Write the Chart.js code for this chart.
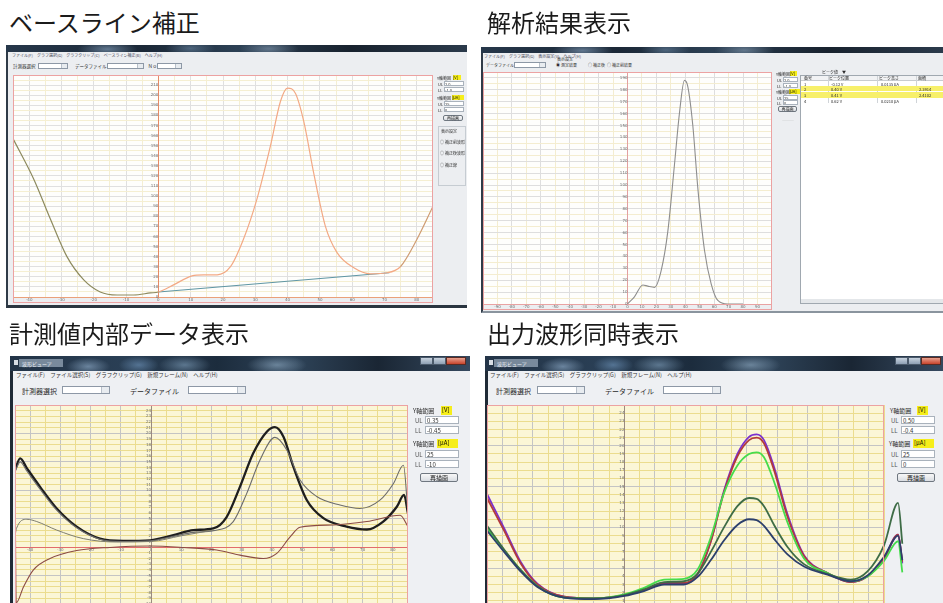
<!DOCTYPE html>
<html lang="ja">
<head>
<meta charset="utf-8">
<title>波形表示画面</title>
<script src="https://cdn.jsdelivr.net/npm/chart.js@4.4.1/dist/chart.umd.min.js"></script>
<style>
  html, body { margin:0; padding:0; }
  body { width:943px; height:603px; overflow:hidden; position:relative; background:#fff;
         font-family:"Noto Sans CJK JP","DejaVu Sans",sans-serif; }
  .shot { position:absolute; left:0; top:0; width:943px; height:603px; filter:blur(0.35px); }
  .a { position:absolute; white-space:nowrap; line-height:1; color:#2a2a2a; }
  .ttl { position:absolute; white-space:nowrap; font-size:24px; line-height:24px; color:#1b1b1b; }
  .win { position:absolute; background:#eceef1; box-sizing:border-box; }
  .aero { position:absolute; overflow:hidden;
    background:
      radial-gradient(ellipse 30px 8px at 22% 60%, rgba(150,180,210,.55), transparent),
      radial-gradient(ellipse 25px 8px at 40% 50%, rgba(120,150,180,.5), transparent),
      radial-gradient(ellipse 30px 9px at 57% 55%, rgba(170,195,220,.45), transparent),
      linear-gradient(90deg,#26374a,#1b2837 30%,#2c4054 50%,#18222e 75%,#2b3a4b); }
  .cb { position:absolute; background:#fff; border:1px solid #8d98a6; box-sizing:border-box; overflow:hidden; }
  .cb i { position:absolute; right:0; top:0; bottom:0; width:5px; border-left:1px solid #b8c0ca; background:#e8ecf0; }
  .frame { position:absolute; border:1px solid #eca2a2; box-sizing:border-box; pointer-events:none; }
  .y { position:absolute; background:#f6ee1a; white-space:nowrap; line-height:1; }
  .tb { position:absolute; background:#fff; border:1px solid #a9b2bc; box-sizing:border-box; line-height:1; white-space:nowrap; color:#333; overflow:hidden; }
  .btn { position:absolute; box-sizing:border-box; border:1px solid #6f7780; border-radius:2px; background:linear-gradient(#f8f8f8,#d9dde2); text-align:center; line-height:1; color:#222; white-space:nowrap; }
  .row { position:absolute; box-sizing:border-box; white-space:nowrap; line-height:1; color:#444; }
  canvas { position:absolute; }
</style>
</head>
<body>

<!-- ===== ベースライン補正 ===== -->
<div class="ttl" style="left:9px;top:10px">ベースライン補正</div>
<div class="shot">
<div class="win" style="left:6px;top:45px;width:461px;height:263px;border-left:2px solid #2f3b48;border-bottom:3px solid #2a3540"></div>
<div class="aero" style="left:6px;top:45px;width:461px;height:7px"></div>
<div class="a" style="left:12px;top:53px;font-size:4px;color:#445">ファイル(F)　グラフ選択(G)　グラフクリップ(C)　ベースライン補正(B)　ヘルプ(H)</div>
<div class="a" style="left:13px;top:64px;font-size:4.5px">計測器選択</div>
<div class="cb" style="left:38px;top:63px;width:30px;height:6px"><i></i></div>
<div class="a" style="left:75px;top:64px;font-size:4.5px">データファイル</div>
<div class="cb" style="left:107px;top:63px;width:37px;height:6px"><i></i></div>
<div class="a" style="left:148px;top:64px;font-size:4.5px">Ｎｏ</div>
<div class="cb" style="left:157px;top:63px;width:25px;height:6px"><i></i></div>
<canvas id="c1" width="420" height="228" style="left:13px;top:75px"></canvas>
<div class="frame" style="left:13px;top:75px;width:420px;height:228px"></div>
<div class="a" style="left:437px;top:76px;font-size:4px">Y軸範囲</div>
<div class="y" style="left:453px;top:75px;width:8px;height:5px;font-size:4px">[V]</div>
<div class="a" style="left:438px;top:82px;font-size:4px">UL</div>
<div class="tb" style="left:444px;top:81px;width:20px;height:5px;font-size:4px">2.0</div>
<div class="a" style="left:438px;top:88px;font-size:4px">LL</div>
<div class="tb" style="left:444px;top:87px;width:20px;height:5px;font-size:4px">-1.0</div>
<div class="a" style="left:437px;top:96px;font-size:4px">Y軸範囲</div>
<div class="y" style="left:452px;top:95px;width:12px;height:5px;font-size:4px">[μA]</div>
<div class="a" style="left:438px;top:102px;font-size:4px">UL</div>
<div class="tb" style="left:444px;top:101px;width:20px;height:5px;font-size:4px">25</div>
<div class="a" style="left:438px;top:108px;font-size:4px">LL</div>
<div class="tb" style="left:444px;top:107px;width:20px;height:5px;font-size:4px">0</div>
<div class="btn" style="left:443px;top:115px;width:20px;height:6px;font-size:4px">再描画</div>
<div class="a" style="left:438px;top:126px;width:28px;height:60px;border:1px solid #c6ccd2;box-sizing:border-box"></div>
<div class="a" style="left:441px;top:129px;font-size:4px">表示設定</div>
<div class="a" style="left:440px;top:140px;font-size:4px">○ 補正前波形</div>
<div class="a" style="left:440px;top:151px;font-size:4px">○ 補正後波形</div>
<div class="a" style="left:440px;top:163px;font-size:4px">○ 補正線</div>
</div>

<!-- ===== 解析結果表示 ===== -->
<div class="ttl" style="left:487px;top:10px">解析結果表示</div>
<div class="shot">
<div class="win" style="left:481px;top:47px;width:462px;height:266px;border-left:2px solid #2f3b48;border-bottom:2px solid #8a949e"></div>
<div class="aero" style="left:481px;top:47px;width:462px;height:6px"></div>
<div class="a" style="left:484px;top:54px;font-size:4px;color:#445">ファイル(F)　グラフ選択(G)　表示設定(V)　ヘルプ(H)</div>
<div class="a" style="left:486px;top:63px;font-size:4px">データファイル</div>
<div class="cb" style="left:514px;top:62px;width:32px;height:6px"><i></i></div>
<div class="a" style="left:557px;top:57px;font-size:4px">表示設定</div>
<div class="a" style="left:556px;top:63px;font-size:4px">◉ 測定結果</div>
<div class="a" style="left:588px;top:63px;font-size:4px">○ 補正後</div>
<div class="a" style="left:607px;top:63px;font-size:4px">○ 補正前結果</div>
<canvas id="c2" width="289" height="238" style="left:483px;top:72px"></canvas>
<div class="frame" style="left:483px;top:72px;width:289px;height:238px"></div>
<div class="a" style="left:776px;top:72px;font-size:4px">Y軸範囲</div>
<div class="y" style="left:790px;top:71px;width:7px;height:5px;font-size:4px">[V]</div>
<div class="a" style="left:777px;top:78px;font-size:4px">UL</div>
<div class="tb" style="left:783px;top:77px;width:15px;height:5px;font-size:4px">2.0</div>
<div class="a" style="left:777px;top:84px;font-size:4px">LL</div>
<div class="tb" style="left:783px;top:83px;width:15px;height:5px;font-size:4px">-1.0</div>
<div class="a" style="left:776px;top:90px;font-size:4px">Y軸範囲</div>
<div class="y" style="left:789px;top:89px;width:11px;height:5px;font-size:4px">[μA]</div>
<div class="a" style="left:777px;top:96px;font-size:4px">UL</div>
<div class="tb" style="left:783px;top:95px;width:15px;height:5px;font-size:4px">25</div>
<div class="a" style="left:777px;top:101px;font-size:4px">LL</div>
<div class="tb" style="left:783px;top:100px;width:15px;height:5px;font-size:4px">0</div>
<div class="btn" style="left:778px;top:106px;width:19px;height:6px;font-size:4px">再描画</div>
<div class="a" style="left:782px;top:119px;font-size:4px;color:#aaa">―――</div>
<div class="a" style="left:822px;top:70px;font-size:4px">ピーク値　▼</div>
<div class="a" style="left:800px;top:75px;width:145px;height:229px;background:#fff;border:1px solid #a0a8b0;box-sizing:border-box"></div>
<div class="row" style="left:801px;top:76px;width:142px;height:5px;background:#f1f2f4;border-bottom:1px solid #c8ccd0;font-size:4px">
  <span class="a" style="left:3px;top:0">番号</span><span class="a" style="left:28px;top:0">ピーク位置</span><span class="a" style="left:78px;top:0">ピーク高さ</span><span class="a" style="left:117px;top:0">面積</span>
</div>
<div class="a" style="left:828px;top:76px;width:1px;height:27px;background:#d0d4d8"></div>
<div class="a" style="left:877px;top:76px;width:1px;height:27px;background:#d0d4d8"></div>
<div class="a" style="left:916px;top:76px;width:1px;height:27px;background:#d0d4d8"></div>
<div class="row" style="left:801px;top:81px;width:142px;height:5px;font-size:4px"><span class="a" style="left:3px;top:0.5px">1</span><span class="a" style="left:30px;top:0.5px">-0.12 V</span><span class="a" style="left:80px;top:0.5px">0.0135 μA</span></div>
<div class="row" style="left:801px;top:86px;width:142px;height:5px;background:#f7f06a;font-size:4px"><span class="a" style="left:3px;top:0.5px">2</span><span class="a" style="left:30px;top:0.5px">0.40 V</span><span class="a" style="left:118px;top:0.5px">2.3914</span></div>
<div class="row" style="left:801px;top:92px;width:142px;height:6px;background:#f7f06a;font-size:4px"><span class="a" style="left:3px;top:1px">3</span><span class="a" style="left:30px;top:1px">0.41 V</span><span class="a" style="left:118px;top:1px">2.4102</span></div>
<div class="row" style="left:801px;top:98px;width:142px;height:5px;font-size:4px"><span class="a" style="left:3px;top:0.5px">4</span><span class="a" style="left:30px;top:0.5px">0.62 V</span><span class="a" style="left:80px;top:0.5px">0.0210 μA</span></div>
<div class="a" style="left:801px;top:299px;width:142px;height:4px;background:#e4e7ea"></div>
</div>

<!-- ===== 計測値内部データ表示 ===== -->
<div class="ttl" style="left:9px;top:321px">計測値内部データ表示</div>
<div class="shot">
<div class="win" style="left:10px;top:356px;width:460px;height:247px;border-left:3px solid #1f2a36;background:#eef0f3"></div>
<div class="aero" style="left:10px;top:356px;width:460px;height:15px;
  background:radial-gradient(ellipse 22px 9px at 17% 70%, rgba(160,190,220,.55), transparent),
  radial-gradient(ellipse 20px 9px at 28% 60%, rgba(120,160,200,.55), transparent),
  radial-gradient(ellipse 26px 10px at 38% 60%, rgba(150,185,215,.5), transparent),
  radial-gradient(ellipse 30px 10px at 58% 60%, rgba(170,200,225,.5), transparent),
  linear-gradient(90deg,#233447,#2a3f55 25%,#1c2c3d 45%,#2e4358 62%,#1a2634 80%,#35495f)"></div>
<div class="a" style="left:14px;top:360px;width:4px;height:5px;background:#d7dde4"></div>
<div class="a" style="left:19px;top:359px;width:44px;height:8px;background:rgba(190,205,222,.55);font-size:5px;color:#e8eef4;padding-left:3px;box-sizing:border-box;padding-top:1.5px">波形ビューア</div>
<div class="a" style="left:420px;top:357px;width:13px;height:8px;background:linear-gradient(#c7d2de,#8ea0b4);border:1px solid #4b5a6b;box-sizing:border-box"></div>
<div class="a" style="left:433px;top:357px;width:13px;height:8px;background:linear-gradient(#c7d2de,#8ea0b4);border:1px solid #4b5a6b;box-sizing:border-box"></div>
<div class="a" style="left:446px;top:357px;width:20px;height:8px;background:linear-gradient(#e7a08e,#c8442c);border:1px solid #5a2a22;box-sizing:border-box"></div>
<div class="a" style="left:16px;top:373px;font-size:5.5px;color:#333">ファイル(F)　ファイル選択(S)　グラフクリップ(G)　新規フレーム(N)　ヘルプ(H)</div>
<div class="a" style="left:22px;top:388px;font-size:7px">計測器選択</div>
<div class="cb" style="left:62px;top:386px;width:48px;height:8px"><i style="width:7px"></i></div>
<div class="a" style="left:130px;top:388px;font-size:7px">データファイル</div>
<div class="cb" style="left:188px;top:386px;width:58px;height:8px"><i style="width:7px"></i></div>
<canvas id="c3" width="393" height="199" style="left:15px;top:405px"></canvas>
<div class="frame" style="left:15px;top:405px;width:393px;height:202px"></div>
<div class="a" style="left:413px;top:408px;font-size:6px">Y軸範囲</div>
<div class="y" style="left:441px;top:406px;width:11px;height:9px;font-size:6px;padding:1px 0 0 1px;box-sizing:border-box">[V]</div>
<div class="a" style="left:415px;top:418px;font-size:6px;color:#555">UL</div>
<div class="tb" style="left:425px;top:416px;width:34px;height:8px;font-size:6px;padding:1px">0.35</div>
<div class="a" style="left:415px;top:428px;font-size:6px;color:#555">LL</div>
<div class="tb" style="left:425px;top:426px;width:34px;height:8px;font-size:6px;padding:1px">-0.45</div>
<div class="a" style="left:413px;top:441px;font-size:6px">Y軸範囲</div>
<div class="y" style="left:437px;top:439px;width:21px;height:9px;font-size:6px;padding:1px 0 0 1px;box-sizing:border-box">[μA]</div>
<div class="a" style="left:415px;top:452px;font-size:6px;color:#555">UL</div>
<div class="tb" style="left:425px;top:450px;width:34px;height:8px;font-size:6px;padding:1px">25</div>
<div class="a" style="left:415px;top:462px;font-size:6px;color:#555">LL</div>
<div class="tb" style="left:425px;top:460px;width:34px;height:8px;font-size:6px;padding:1px">-10</div>
<div class="btn" style="left:420px;top:473px;width:38px;height:9px;font-size:6px;padding-top:1px">再描画</div>
</div>

<!-- ===== 出力波形同時表示 ===== -->
<div class="ttl" style="left:487px;top:321px">出力波形同時表示</div>
<div class="shot">
<div class="win" style="left:485px;top:356px;width:458px;height:247px;border-left:3px solid #1f2a36;background:#eef0f3"></div>
<div class="aero" style="left:485px;top:356px;width:458px;height:15px;
  background:radial-gradient(ellipse 22px 9px at 17% 70%, rgba(160,190,220,.55), transparent),
  radial-gradient(ellipse 20px 9px at 28% 60%, rgba(120,160,200,.55), transparent),
  radial-gradient(ellipse 26px 10px at 38% 60%, rgba(150,185,215,.5), transparent),
  radial-gradient(ellipse 30px 10px at 58% 60%, rgba(170,200,225,.5), transparent),
  linear-gradient(90deg,#233447,#2a3f55 25%,#1c2c3d 45%,#2e4358 62%,#1a2634 80%,#35495f)"></div>
<div class="a" style="left:489px;top:360px;width:4px;height:5px;background:#d7dde4"></div>
<div class="a" style="left:494px;top:359px;width:44px;height:8px;background:rgba(190,205,222,.55);font-size:5px;color:#e8eef4;padding-left:3px;box-sizing:border-box;padding-top:1.5px">波形ビューア</div>
<div class="a" style="left:895px;top:357px;width:13px;height:8px;background:linear-gradient(#c7d2de,#8ea0b4);border:1px solid #4b5a6b;box-sizing:border-box"></div>
<div class="a" style="left:908px;top:357px;width:13px;height:8px;background:linear-gradient(#c7d2de,#8ea0b4);border:1px solid #4b5a6b;box-sizing:border-box"></div>
<div class="a" style="left:921px;top:357px;width:20px;height:8px;background:linear-gradient(#e7a08e,#c8442c);border:1px solid #5a2a22;box-sizing:border-box"></div>
<div class="a" style="left:490px;top:373px;font-size:5.5px;color:#333">ファイル(F)　ファイル選択(S)　グラフクリップ(G)　新規フレーム(N)　ヘルプ(H)</div>
<div class="a" style="left:496px;top:388px;font-size:7px">計測器選択</div>
<div class="cb" style="left:537px;top:386px;width:48px;height:8px"><i style="width:7px"></i></div>
<div class="a" style="left:605px;top:388px;font-size:7px">データファイル</div>
<div class="cb" style="left:663px;top:386px;width:58px;height:8px"><i style="width:7px"></i></div>
<div class="a" style="left:890px;top:408px;font-size:6px">Y軸範囲</div>
<div class="y" style="left:917px;top:406px;width:11px;height:9px;font-size:6px;padding:1px 0 0 1px;box-sizing:border-box">[V]</div>
<div class="a" style="left:891px;top:418px;font-size:6px;color:#555">UL</div>
<div class="tb" style="left:901px;top:416px;width:34px;height:8px;font-size:6px;padding:1px">0.50</div>
<div class="a" style="left:891px;top:428px;font-size:6px;color:#555">LL</div>
<div class="tb" style="left:901px;top:426px;width:34px;height:8px;font-size:6px;padding:1px">-0.4</div>
<div class="a" style="left:889px;top:441px;font-size:6px">Y軸範囲</div>
<div class="y" style="left:913px;top:439px;width:21px;height:9px;font-size:6px;padding:1px 0 0 1px;box-sizing:border-box">[μA]</div>
<div class="a" style="left:891px;top:452px;font-size:6px;color:#555">UL</div>
<div class="tb" style="left:901px;top:450px;width:34px;height:8px;font-size:6px;padding:1px">25</div>
<div class="a" style="left:891px;top:462px;font-size:6px;color:#555">LL</div>
<div class="tb" style="left:901px;top:460px;width:34px;height:8px;font-size:6px;padding:1px">0</div>
<div class="btn" style="left:897px;top:473px;width:38px;height:9px;font-size:6px;padding-top:1px">再描画</div>
<canvas id="c4" width="417" height="210" style="left:487px;top:405px"></canvas>
<div class="frame" style="left:487px;top:405px;width:397px;height:210px"></div>
</div>

<script>
// ---- ベースライン補正: 補正前波形と補正線 ----
const bcX   = [-45, -38.6, -33.4, -28.3, -23.1, -18, -12.8, -7.7, -2.5, 0, 4.7, 10.4, 14, 18.2, 22.3, 26.3, 30.5, 34.7, 37.8, 40, 42.4, 45, 48, 51.7, 55.3, 60.5, 65.6, 70.8, 74.9, 80, 85];
const bcRaw = [157, 117, 77, 40, 17, 5, 2, 2, 4, 5, 12, 21, 22, 22, 30, 57, 97, 150, 194, 207, 202, 174, 124, 70, 44, 29, 23, 24, 30, 57, 90];
const bcLineX = [0, 71.5];
const bcLine  = [5, 24];

// ---- 解析結果: 補正後波形 ----
const arX = [0, 4.8, 10.6, 14, 18.7, 23.3, 27.9, 32.5, 36, 39.4, 41.7, 45.2, 48.7, 53.3, 57.9, 62.5, 69.4, 80];
const arY = [0, 6, 16, 15, 14, 28, 61, 117, 161, 188, 183, 150, 97, 45, 17, 3, 0, 0];

// ---- 計測値内部データ (μA) ----
const imMainX = [-45, -43.3, -41.1, -36.7, -31.2, -24.6, -16.9, -9.2, -0.3, 7.4, 14, 20.6, 25, 29.4, 33.8, 38.3, 41, 43.8, 47.1, 51.5, 57, 64.7, 71.4, 76.8, 81.3, 83.7, 85];
const imMain  = [13.6, 15.6, 13.9, 10.6, 6.8, 3.6, 1.5, 1.1, 1.2, 2.1, 3.0, 3.3, 5.3, 10.6, 16.5, 20.3, 21.1, 19.4, 14.1, 8.3, 5.1, 3.6, 3.1, 4.5, 7.1, 9.2, 5.9];
const imSubX  = [-45, -43.3, -41.1, -36.7, -31.2, -24.6, -16.9, -9.2, -0.3, 7.4, 14, 20.6, 27.2, 31.7, 36, 41, 44.9, 49.3, 54.8, 62.5, 69.1, 75.8, 80.2, 83.5, 85];
const imSub   = [13.2, 15.0, 13.4, 10.2, 6.5, 3.4, 1.4, 1.0, 1.1, 1.9, 2.6, 2.9, 4.5, 9.5, 15.3, 19.3, 17.1, 11.8, 8.9, 7.4, 6.8, 8.3, 11.2, 14.4, 5.9];
const imLeftX = [-45, -44.5, -41.1, -37.8, -31.2, -22.4, -11.3, 0, 10, 20.6];
const imLeft  = [2.0, 3.3, 4.9, 4.5, 3.0, 1.5, 0.9, 1.0, 2.0, 3.0];
const imCurX  = [-45, -44.6, -42.2, -38.9, -33.4, -24.6, -13.6, -0.3, 10.7, 21.7, 29.4, 37.1, 41.6, 46, 49.3, 60.3, 71.4, 82.4, 85];
const imCur   = [13.6, -9.8, -7.0, -4.0, -2.0, -0.6, -0.05, 0.2, -0.05, -0.5, -1.4, -2.0, -1.1, 1.8, 3.5, 3.9, 4.5, 5.6, 3.6];

// ---- 出力波形同時表示 (μA) ----
const owX      = [-45, -39.4, -34, -28.5, -19.7, -9.9, 0, 6.4, 13, 19.5, 23.9, 28.3, 32.6, 37, 40.8, 43.3, 45.7, 49, 53.4, 58.8, 66.5, 74.1, 79.6, 85, 89.6, 91];
const owCh1    = [14.1, 9.9, 5.8, 3.1, 1.5, 1.3, 1.7, 2.3, 3.1, 3.1, 4.2, 8.3, 14.5, 19.0, 21.1, 21.4, 20.7, 17.4, 11.6, 6.6, 4.4, 3.3, 4.0, 6.2, 9.1, 5.6];
const owCh2    = [13.6, 9.6, 5.6, 3.0, 1.5, 1.3, 1.7, 2.3, 3.2, 3.2, 4.3, 8.3, 14.3, 18.7, 20.7, 21.0, 20.3, 17.0, 11.3, 6.5, 4.4, 3.3, 4.0, 6.2, 9.1, 5.8];
const owCh3    = [9.9, 7.2, 4.8, 2.8, 1.4, 1.3, 1.8, 2.6, 3.6, 3.7, 4.8, 8.8, 14.2, 17.6, 19.0, 19.2, 18.6, 15.6, 10.6, 6.2, 4.4, 3.4, 4.0, 5.9, 8.3, 4.5];
const owCh4    = [10.2, 7.3, 4.8, 2.8, 1.4, 1.3, 1.7, 2.4, 3.3, 3.4, 4.3, 7.0, 10.0, 12.6, 13.6, 13.5, 12.6, 10.3, 7.6, 5.5, 4.3, 3.6, 4.6, 7.8, 13.0, 8.0];
const owCh5    = [9.6, 7.0, 4.6, 2.7, 1.4, 1.2, 1.6, 2.2, 3.0, 3.0, 3.9, 6.0, 8.4, 10.3, 11.0, 10.9, 10.2, 8.6, 6.7, 5.2, 4.2, 3.4, 4.1, 6.4, 9.0, 6.0];

// ---- 軸範囲 [min, max, grid step, major grid step, label step] ----
const bcAxisX = [-45, 85, 5, 10, 10],    bcAxisY = [0, 220, 5, 10, 10];
const arAxisX = [-100, 100, 10, 20, 10], arAxisY = [0, 195, 5, 10, 10];
const imAxisX = [-45, 85, 5, 10, 10],    imAxisY = [-10, 25, 1, 5, 1];
const owAxisX = [-45, 85, 5, 10, 10],    owAxisY = [0, 25, 1, 5, 1];

const tickFont = { family: 'DejaVu Sans', size: 4, lineHeight: 1 };

const pts = (xs, ys) => xs.map((x, i) => ({ x, y: ys[i] }));
const flatten = s => { s.paddingLeft = 0; s.paddingRight = 0; s.paddingTop = 0; s.paddingBottom = 0; };
const isMult = (v, every) => Math.abs(Math.round(v * 1000)) % Math.round(every * 1000) === 0;

function series(xs, ys, color, width, extra) {
  return Object.assign({
    data: pts(xs, ys), borderColor: color, borderWidth: width, pointRadius: 0,
    tension: 0.4, cubicInterpolationMode: 'monotone', fill: false
  }, extra || {});
}

// chart area background
const areaFill = {
  id: 'areaFill',
  beforeDraw(chart, args, opts) {
    const a = chart.chartArea, ctx = chart.ctx;
    ctx.save();
    ctx.fillStyle = opts.color || '#fff';
    ctx.fillRect(a.left, a.top, a.right - a.left, a.bottom - a.top);
    ctx.restore();
  }
};

function makeChart(id, o) {
  const ax = o.x, ay = o.y;
  const xScale = {
    type: 'linear', min: ax[0],
    position: o.xAtZero ? { y: 0 } : 'bottom',
    afterFit: s => { flatten(s); if (o.xAtZero) s.height = 0; },
    ticks: { stepSize: ax[2], autoSkip: false, maxRotation: 0, minRotation: 0, padding: 1,
             font: tickFont, color: '#707070',
             callback: v => (isMult(v, ax[4]) && v !== ax[0] && v !== ax[1] ? String(v) : '') },
    grid: { color: c => (c.tick && isMult(c.tick.value, ax[3]) ? o.grid[0] : o.grid[1]), lineWidth: 1, drawTicks: false },
    border: { display: true, color: o.xAxisColor, width: 1 }
  };
  if (o.overhang) xScale.afterDataLimits = s => { s.max = ax[1]; };
  else xScale.max = ax[1];
  return new Chart(document.getElementById(id), {
    type: 'line',
    data: { datasets: o.datasets },
    plugins: [areaFill],
    options: {
      responsive: false, animation: false, devicePixelRatio: 1,
      layout: { padding: o.padding || 0 },
      plugins: { legend: { display: false }, tooltip: { enabled: false }, areaFill: { color: o.bg } },
      scales: {
        x: xScale,
        y: {
          type: 'linear', min: ay[0], max: ay[1], position: { x: 0 },
          afterFit: s => { flatten(s); s.width = 0; },
          ticks: { stepSize: ay[2], autoSkip: false, padding: 1, font: tickFont, color: '#707070',
                   callback: v => (isMult(v, ay[4]) && v !== ay[1] ? String(v) : '') },
          grid: { color: c => (c.tick && isMult(c.tick.value, ay[3]) ? o.grid[0] : o.grid[1]), lineWidth: 1, drawTicks: false },
          border: { display: true, color: o.yAxisColor, width: 1 }
        }
      }
    }
  });
}

// ベースライン補正
makeChart('c1', {
  x: bcAxisX, y: bcAxisY, bg: '#fefefc', grid: ['#e0e0e0', '#f5efd2'],
  xAxisColor: '#eaa07a', yAxisColor: '#e58a66',
  datasets: [
    series(bcX, bcRaw, '#f3a985', 1.2, {
      segment: { borderColor: s => (s.p1.parsed.x <= 0 ? '#8d8a5e' : (s.p0.parsed.x >= 71 ? '#cf9c72' : undefined)) }
    }),
    series(bcLineX, bcLine, '#5f96a4', 1.1, { tension: 0, cubicInterpolationMode: 'default' })
  ]
});

// 解析結果表示
makeChart('c2', {
  x: arAxisX, y: arAxisY, bg: '#fefefc', grid: ['#dedede', '#f4edd0'],
  xAxisColor: '#e9a2a2', yAxisColor: '#e2a0a0',
  datasets: [ series(arX, arY, '#8e8e8e', 1.1) ]
});

// 計測値内部データ表示
makeChart('c3', {
  x: imAxisX, y: imAxisY, bg: '#fbf6d6', grid: ['#c4c4c4', '#ebdc8e'], xAtZero: true,
  xAxisColor: '#e26c6c', yAxisColor: '#9a8a80',
  datasets: [
    series(imCurX, imCur, '#8b4b45', 1.1),
    series(imLeftX, imLeft, '#7e7e70', 1),
    series(imSubX, imSub, '#6c6c6c', 1.1),
    series(imMainX, imMain, '#1e1e1e', 2.3)
  ]
});

// 出力波形同時表示
makeChart('c4', {
  x: owAxisX, y: owAxisY, bg: '#fbf6d6', grid: ['#c4c4c4', '#ebdc8e'], overhang: true,
  padding: { right: 20 },
  xAxisColor: '#e26c6c', yAxisColor: '#9a8a80',
  datasets: [
    series(owX, owCh5, '#2c3f6c', 1.8, { clip: false }),
    series(owX, owCh4, '#3e6c46', 1.8, { clip: false }),
    series(owX, owCh3, '#45dc4c', 1.8, { clip: false }),
    series(owX, owCh2, '#b23a3c', 1.8, { clip: false }),
    series(owX, owCh1, '#7a30cf', 1.8, { clip: false })
  ]
});
</script>
</body>
</html>
